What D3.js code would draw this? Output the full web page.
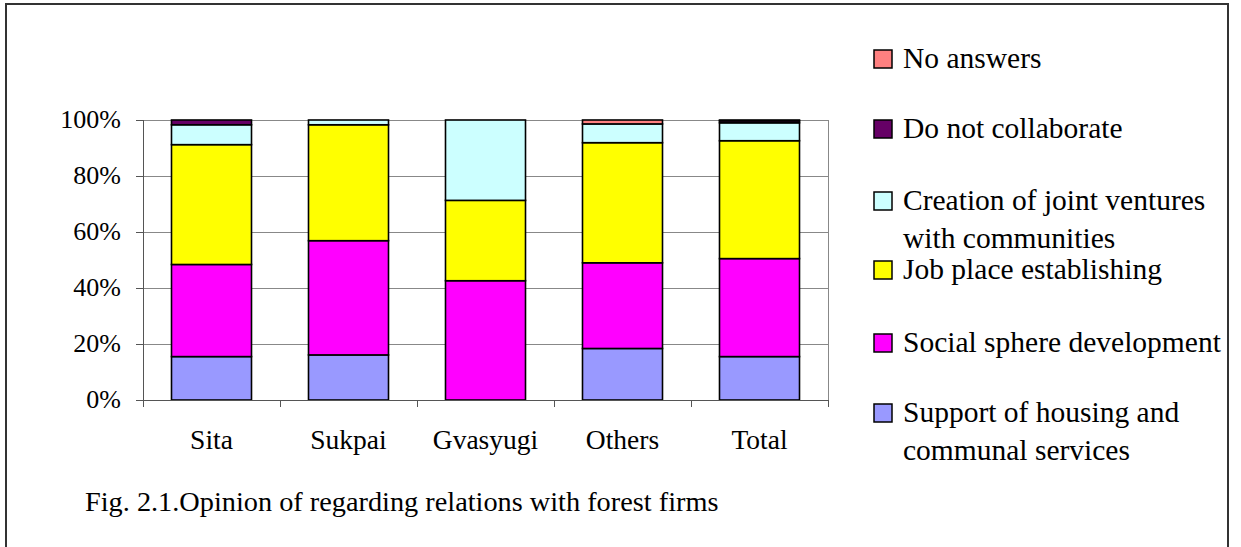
<!DOCTYPE html>
<head>
    <meta charset="utf-8">
    <script src="https://d3js.org/d3.v7.min.js"></script>
    <style>
      body { margin: 0; background: #fff; }
      svg text { font-family: "Liberation Serif", "Times New Roman", serif !important; fill: #000; }
      .axis path, .axis line { fill: none; stroke: #555; shape-rendering: crispEdges; }
      .grid line { stroke: #888; shape-rendering: crispEdges; }
    </style>
</head>
<body>
    <div class="chart"></div>
    <script>
      // categories along x
      var places = ['Sita', 'Sukpai', 'Gvasyugi', 'Others', 'Total'];

      // series, bottom to top of each stack (percent)
      var seriesNames = ['Support of housing and communal services', 'Social sphere development',
                         'Job place establishing', 'Creation of joint ventures with communities',
                         'Do not collaborate', 'No answers'];
      var housing   = [15.5, 16.1, 0.0, 18.4, 15.5];
      var social    = [32.9, 40.8, 42.6, 30.6, 35.0];
      var jobs      = [42.8, 41.4, 28.7, 42.9, 42.1];
      var ventures  = [7.1, 1.7, 28.7, 6.7, 6.4];
      var noCollab  = [1.7, 0.0, 0.0, 0.0, 0.7];
      var noAnswers = [0.0, 0.0, 0.0, 1.4, 0.3];

      var yTicks = [0, 20, 40, 60, 80, 100];
      var caption = 'Fig. 2.1.Opinion of regarding relations with forest firms';

      // legend lines (top to bottom)
      var legendLines = [
        ['No answers'],
        ['Do not collaborate'],
        ['Creation of joint ventures', 'with communities'],
        ['Job place establishing'],
        ['Social sphere development'],
        ['Support of housing and', 'communal services']
      ];

      var colors = ['#9999ff', '#ff00ff', '#ffff00', '#ccffff', '#660066', '#ff8080'];

      var W = 1241, H = 547;
      var serif = '"Liberation Serif", "Times New Roman", serif';

      var rows = places.map(function(p, i) {
        return {place: p, s0: housing[i], s1: social[i], s2: jobs[i], s3: ventures[i], s4: noCollab[i], s5: noAnswers[i]};
      });
      var keys = ['s0', 's1', 's2', 's3', 's4', 's5'];
      var stacked = d3.stack().keys(keys)(rows);

      var svg = d3.select('.chart').append('svg')
          .attr('width', W).attr('height', H)
          .attr('font-family', serif);

      // outer frame
      svg.append('path')
          .attr('d', 'M6,' + H + 'V4H1228V' + H)
          .attr('fill', 'none').attr('stroke', '#333').attr('stroke-width', 2);

      var x = d3.scaleBand().domain(places)
          .range([143, 828]).paddingInner(0.416).paddingOuter(0.208);
      var y = d3.scaleLinear().domain([0, 100]).range([400, 120]);

      // grid
      svg.append('g').attr('class', 'grid')
          .selectAll('line').data(yTicks.slice(1)).enter().append('line')
          .attr('x1', 143).attr('x2', 828)
          .attr('y1', function(d) { return y(d); })
          .attr('y2', function(d) { return y(d); });
      svg.append('line').attr('x1', 828).attr('x2', 828).attr('y1', 120).attr('y2', 400)
          .attr('stroke', '#888').style('shape-rendering', 'crispEdges');

      // bars
      var layer = svg.selectAll('.layer').data(stacked).enter().append('g')
          .attr('class', 'layer')
          .attr('fill', function(d, i) { return colors[i]; });
      layer.selectAll('rect')
          .data(function(d) { return d.filter(function(e) { return e[1] - e[0] > 0; }); })
          .enter().append('rect')
          .attr('x', function(d) { return x(d.data.place); })
          .attr('width', x.bandwidth())
          .attr('y', function(d) { return y(d[1]); })
          .attr('height', function(d) { return y(d[0]) - y(d[1]); })
          .attr('stroke', '#000').attr('stroke-width', 1.6);

      // y axis
      var yAxis = d3.axisLeft(y).tickValues(yTicks).tickSize(7).tickPadding(15)
          .tickFormat(function(d) { return d + '%'; });
      svg.append('g').attr('class', 'axis').attr('transform', 'translate(143,0)')
          .call(yAxis)
          .attr('font-family', serif)
          .call(function(g) { g.select('.domain').attr('d', 'M0,120V400'); })
          .selectAll('text').attr('font-size', 26).attr('dy', '0.3em');

      // x axis, ticks between categories
      var xAxis = d3.axisBottom(x).tickSize(0).tickPadding(29);
      var xg = svg.append('g').attr('class', 'axis').attr('transform', 'translate(0,400)')
          .call(xAxis)
          .attr('font-family', serif);
      xg.select('.domain').attr('d', 'M143,0H828');
      xg.selectAll('text').attr('font-size', 27.5);
      xg.selectAll('.sep').data(d3.range(places.length + 1)).enter().append('line')
          .attr('class', 'sep')
          .attr('x1', function(i) { return 143 + i * x.step(); })
          .attr('x2', function(i) { return 143 + i * x.step(); })
          .attr('y1', 0).attr('y2', 7);

      // legend
      var legendBase = [68, 138, 210, 279, 352, 422];
      var lg = svg.append('g').selectAll('g').data(legendLines).enter().append('g')
          .attr('transform', function(d, i) { return 'translate(874,' + legendBase[i] + ')'; });
      lg.append('rect')
          .attr('x', 0).attr('y', -18).attr('width', 18).attr('height', 18)
          .attr('fill', function(d, i) { return colors[colors.length - 1 - i]; })
          .attr('stroke', '#000').attr('stroke-width', 1.5);
      lg.append('text').attr('font-size', 29.5).style('font-family', serif)
          .selectAll('tspan').data(function(d) { return d; }).enter().append('tspan')
          .attr('x', 29).attr('y', function(d, j) { return j * 37.5; })
          .text(function(d) { return d; });

      svg.append('text').attr('x', 85).attr('y', 511)
          .attr('font-size', 28.3).style('font-family', serif).text(caption);
    </script>
</body>
